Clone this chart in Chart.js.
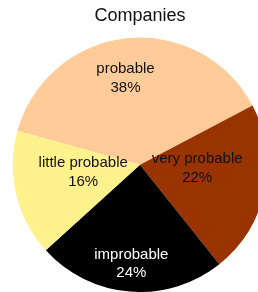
<!DOCTYPE html>
<html>
<head>
<meta charset="utf-8">
<script src="https://cdn.jsdelivr.net/npm/chart.js@4"></script>
<style>
  html, body { margin: 0; padding: 0; background: #fff; overflow: hidden; }
  #wrap { width: 280px; height: 292px; }
</style>
</head>
<body>
<div id="wrap"><canvas id="chart"></canvas></div>
<script>
// dados
const categorias = ["probable", "very probable", "improbable", "little probable"];
const valores = [38, 22, 24, 16];
const cores = ["#FFCC99", "#993300", "#000000", "#FFF18C"];
const coresTexto = ["#111", "#111", "#fff", "#111"];

// rótulos dentro das fatias: nome + percentual
const pieLabels = {
  id: "pieLabels",
  afterDatasetsDraw(chart, args, opts) {
    const ctx = chart.ctx;
    const meta = chart.getDatasetMeta(0);
    const total = valores.reduce((a, b) => a + b, 0);
    ctx.save();
    ctx.font = "15px 'Liberation Sans', Arial, sans-serif";
    ctx.textAlign = "center";
    ctx.textBaseline = "middle";
    meta.data.forEach((arc, i) => {
      const p = arc.getProps(["x", "y", "startAngle", "endAngle", "outerRadius"], true);
      const mid = (p.startAngle + p.endAngle) / 2 + opts.shift[i] * Math.PI / 180;
      const r = p.outerRadius * opts.radius[i];
      const x = p.x + Math.cos(mid) * r;
      const y = p.y + Math.sin(mid) * r;
      const pct = Math.round(valores[i] / total * 100) + "%";
      ctx.fillStyle = coresTexto[i];
      ctx.fillText(categorias[i], x, y - 9);
      ctx.fillText(pct, x, y + 9.5);
    });
    ctx.restore();
  }
};

new Chart(document.getElementById("chart"), {
  type: "pie",
  data: {
    labels: categorias,
    datasets: [{
      data: valores,
      backgroundColor: cores,
      borderWidth: 0
    }]
  },
  options: {
    responsive: true,
    maintainAspectRatio: false,
    animation: false,
    rotation: 285.4,
    layout: { padding: 0 },
    plugins: {
      legend: { display: false },
      tooltip: { enabled: false },
      title: {
        display: true,
        text: "Companies",
        color: "#111",
        font: { family: "'Liberation Sans', Arial, sans-serif", size: 18, weight: "normal", lineHeight: 1.2 },
        padding: { top: 5, bottom: 11 }
      },
      pieLabels: {
        radius: [0.69, 0.45, 0.78, 0.45],
        shift: [-3.3, -8.5, 0.4, 6.3]
      }
    }
  },
  plugins: [pieLabels]
});
</script>
</body>
</html>
